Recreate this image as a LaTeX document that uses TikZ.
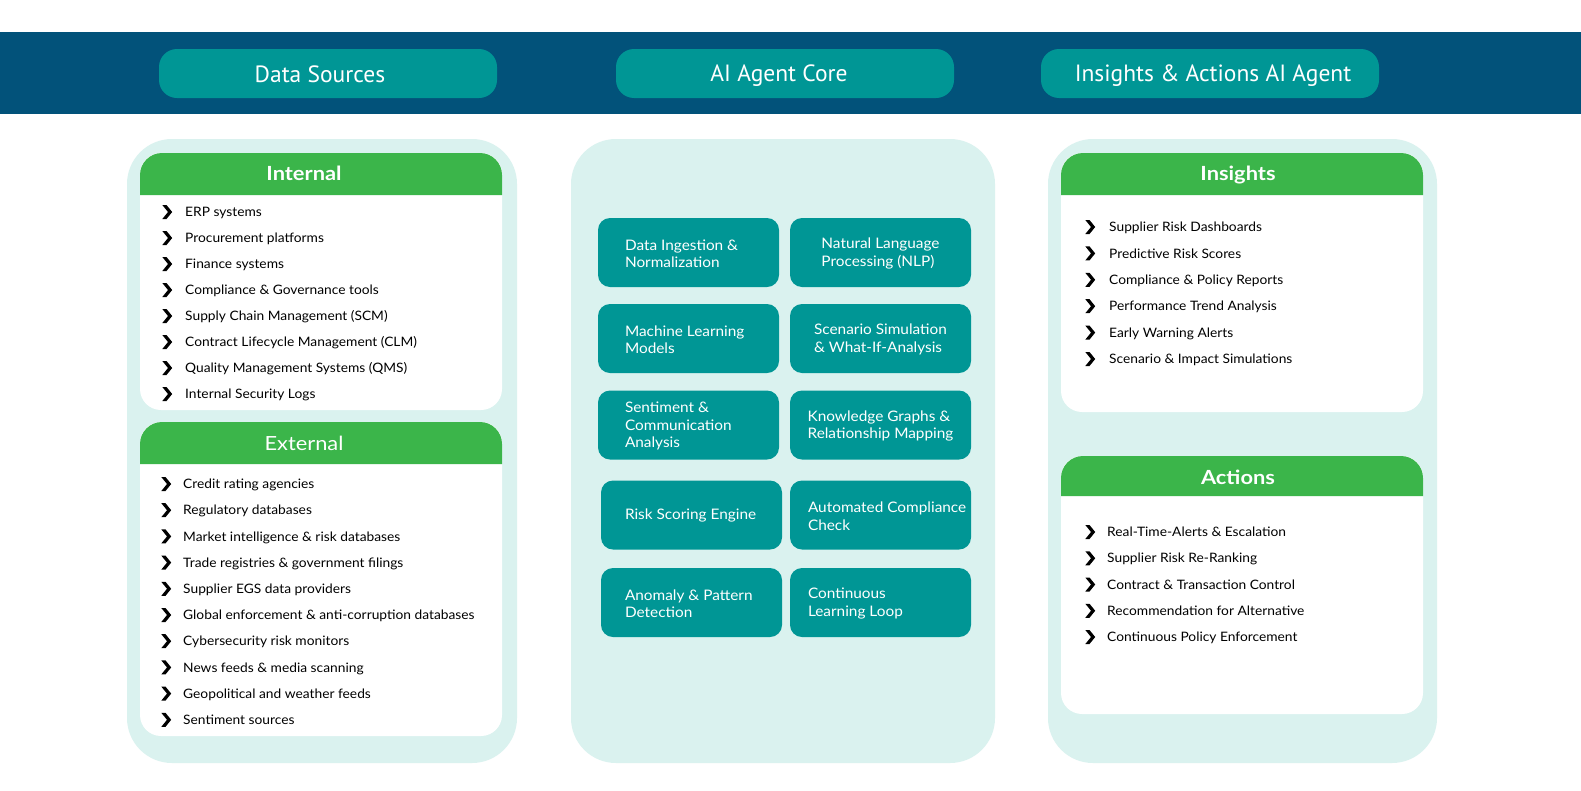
\documentclass[tikz,border=0pt]{standalone}
\usepackage{fontspec}
\setmainfont{Lato}
\newfontfamily\hdfont{PT Sans}
\newfontfamily\itemfont[FakeStretch=1.06]{Lato}
\newfontfamily\cardhd[FakeStretch=1.12]{Lato}
\definecolor{band}{HTML}{02527A}
\definecolor{tealc}{HTML}{009695}
\definecolor{mint}{HTML}{DAF2EF}
\definecolor{grn}{HTML}{3BB54A}
\tikzset{
  chev/.pic={\fill[black] (-4.7,-7) -- (-0.5,-7) -- (5.2,0) -- (-0.5,7) -- (-4.7,7) -- (1,0) -- cycle;},
  pill/.style={fill=tealc, rounded corners=18pt, minimum width=338pt, minimum height=49pt, inner sep=0pt},
  pilltext/.style={inner sep=0pt, text=white, font=\hdfont\fontsize{23.5}{26}\selectfont},
  item/.style={anchor=west, inner sep=0pt, font=\itemfont\fontsize{13}{15}\selectfont, text height=9.4pt, text depth=0pt},
  corebox/.style={fill=tealc, rounded corners=12pt, minimum width=181pt, minimum height=69pt, inner sep=0pt},
  coretext/.style={text=white, align=left, inner sep=0pt, font=\itemfont\fontsize{14.5}{17.5}\selectfont},
  hdtext/.style={text=white, inner sep=0pt, font=\cardhd\fontsize{19.5}{22}\selectfont},
}
\newcommand\cardbox[5]{% x1 y1 ymid y2 name
  \fill[white, rounded corners=21pt] (#1,#2) rectangle ++(362,{#4-#2});
  \fill[grn] (#1,#3) [rounded corners=22pt] -- (#1,#2) -- ({#1+362},#2) [sharp corners] -- ({#1+362},#3) -- cycle;
}
\begin{document}
\begin{tikzpicture}[x=1pt,y=-1pt]
\useasboundingbox (0,0) rectangle (1581,790);
\fill[white] (0,0) rectangle (1581,790);
% header band
\fill[band] (0,32) rectangle (1581,114);
\node[pill] (p1) at (328,73.5) {};
\node[pill] (p2) at (785,73.5) {};
\node[pill] (p3) at (1210,73.5) {};
\node[pilltext] (p1t) at ([xshift=-8pt,yshift=-1pt]p1.center) {Data Sources};
\node[pilltext] (p2t) at ([xshift=-6pt,yshift=-2pt]p2.center) {AI Agent Core};
\node[pilltext] (p3t) at ([xshift=3pt,yshift=-2pt]p3.center) {Insights \& Actions AI Agent};
% column backgrounds
\fill[mint, rounded corners=45pt] (127,139) rectangle (517,763);
\fill[mint, rounded corners=45pt] (571,139) rectangle (995,763);
\fill[mint, rounded corners=45pt] (1048,139) rectangle (1437,763);
% ---- Internal
\cardbox{140}{153}{195}{410}{int}
\node[hdtext, font=\cardhd\bfseries\fontsize{19.5}{22}\selectfont] (hInt) at (304,173) {Internal};
\foreach \t [count=\i] in {ERP systems, Procurement platforms, Finance systems, Compliance \& Governance tools, Supply Chain Management (SCM), Contract Lifecycle Management (CLM), Quality Management Systems (QMS), Internal Security Logs}{
  \pgfmathsetmacro\yy{212+26*(\i-1)}
  \pic at (167,\yy) {chev};
  \node[item] (in\i) at (185,\yy) {\t};
}
% ---- External
\cardbox{140}{422}{464}{736}{ext}
\node[hdtext] (hExt) at (304,443) {External};
\foreach \t [count=\i] in {Credit rating agencies, Regulatory databases, Market intelligence \& risk databases, Trade registries \& government filings, Supplier EGS data providers, Global enforcement \& anti-corruption databases, Cybersecurity risk monitors, News feeds \& media scanning, Geopolitical and weather feeds, Sentiment sources}{
  \pgfmathsetmacro\yy{484+26.2*(\i-1)}
  \pic at (166,\yy) {chev};
  \node[item] (ex\i) at (183,\yy) {\t};
}
% ---- Core
\node[corebox] (b1) at (688.5,252.5) {};
\node[corebox] (b2) at (880.5,252.5) {};
\node[corebox] (b3) at (688.5,338.5) {};
\node[corebox] (b4) at (880.5,338.5) {};
\node[corebox] (b5) at (688.5,425) {};
\node[corebox] (b6) at (880.5,425) {};
\node[corebox] (b7) at (691.5,515) {};
\node[corebox] (b8) at (880.5,515) {};
\node[corebox] (b9) at (691.5,602.5) {};
\node[corebox] (b10) at (880.5,602.5) {};
\node[coretext, anchor=west] (t1) at ([xshift=27pt,yshift=-1pt]b1.west) {Data Ingestion \&\\Normalization};
\node[coretext] (t2) at ([yshift=-1pt]b2.center) {Natural Language\\Processing (NLP)};
\node[coretext, anchor=west] (t3) at ([xshift=27pt,yshift=-1pt]b3.west) {Machine Learning\\Models};
\node[coretext] (t4) at ([yshift=-1pt]b4.center) {Scenario Simulation\\\& What-If-Analysis};
\node[coretext, anchor=west] (t5) at ([xshift=27pt,yshift=-1pt]b5.west) {Sentiment \&\\Communication\\Analysis};
\node[coretext] (t6) at ([yshift=-1pt]b6.center) {Knowledge Graphs \&\\Relationship Mapping};
\node[coretext, anchor=west] (t7) at ([xshift=24pt]b7.west) {Risk Scoring Engine};
\node[coretext, anchor=west] (t8) at ([xshift=18pt,yshift=-1pt]b8.west) {Automated Compliance\\Check};
\node[coretext, anchor=west] (t9) at ([xshift=24pt,yshift=-1pt]b9.west) {Anomaly \& Pattern\\Detection};
\node[coretext, anchor=west] (t10) at ([xshift=18pt,yshift=-1pt]b10.west) {Continuous\\Learning Loop};
% ---- Insights
\cardbox{1061}{153}{195}{412}{ins}
\node[hdtext, font=\cardhd\bfseries\fontsize{19.5}{22}\selectfont] (hIns) at (1238,175) {Insights};
\foreach \t [count=\i] in {Supplier Risk Dashboards, Predictive Risk Scores, Compliance \& Policy Reports, Performance Trend Analysis, Early Warning Alerts, Scenario \& Impact Simulations}{
  \pgfmathsetmacro\yy{227+26.4*(\i-1)}
  \pic at (1090,\yy) {chev};
  \node[item] (is\i) at (1109,\yy) {\t};
}
% ---- Actions
\cardbox{1061}{456}{496}{714}{act}
\node[hdtext, font=\cardhd\bfseries\fontsize{19.5}{22}\selectfont] (hAct) at (1238,477) {Actions};
\foreach \t [count=\i] in {Real-Time-Alerts \& Escalation, Supplier Risk Re-Ranking, Contract \& Transaction Control, Recommendation for Alternative, Continuous Policy Enforcement}{
  \pgfmathsetmacro\yy{532+26.25*(\i-1)}
  \pic at (1090,\yy) {chev};
  \node[item] (ac\i) at (1107,\yy) {\t};
}
\end{tikzpicture}
\end{document}
